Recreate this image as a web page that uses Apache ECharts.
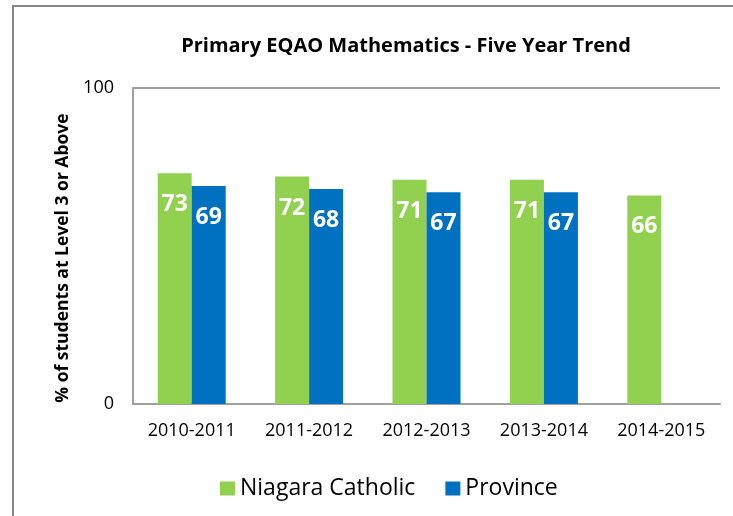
<!DOCTYPE html>
<html>
<head>
<meta charset="utf-8">
<script src="https://cdn.jsdelivr.net/npm/echarts@6/dist/echarts.min.js"></script>
<style>
html, body { margin: 0; padding: 0; background: #fff; }
#main { width: 733px; height: 516px; }
</style>
</head>
<body>
<div id="main"></div>
<script>
var years = ['2010-2011', '2011-2012', '2012-2013', '2013-2014', '2014-2015'];
var niagara = [73, 72, 71, 71, 66];
var province = [69, 68, 67, 67, null];

var font = '"Open Sans", "Noto Sans", sans-serif';

var barLabel = {
    show: true,
    position: 'insideTop',
    distance: 20,
    color: '#fff',
    fontWeight: 'bold',
    fontSize: 23,
    fontFamily: font
};

var myChart = echarts.init(document.getElementById('main'));
myChart.setOption({
    backgroundColor: '#fff',
    animation: false,
    graphic: [{
        type: 'rect',
        shape: { x: 13, y: 6, width: 760, height: 540 },
        style: { fill: 'none', stroke: '#878787', lineWidth: 2 }
    }],
    title: {
        text: 'Primary EQAO Mathematics - Five Year Trend',
        left: 401,
        textAlign: 'center',
        top: 31,
        textStyle: { fontFamily: font, fontSize: 20, fontWeight: 'bold', color: '#000' }
    },
    legend: {
        left: 215,
        top: 472,
        icon: 'rect',
        itemWidth: 15,
        itemHeight: 14,
        itemGap: 30,
        textStyle: { fontFamily: font, fontSize: 23, color: '#000' },
        data: ['Niagara Catholic', 'Province']
    },
    grid: { left: 133, right: 13, top: 88, bottom: 112 },
    xAxis: {
        type: 'category',
        data: years,
        axisTick: { show: false },
        axisLine: { lineStyle: { color: '#a0a0a0', width: 2 } },
        axisLabel: { fontFamily: font, fontSize: 18, color: '#000', margin: 18 }
    },
    yAxis: {
        type: 'value',
        min: 0,
        max: 100,
        interval: 100,
        name: '% of students at Level 3 or Above',
        nameLocation: 'middle',
        nameGap: 59,
        nameTextStyle: {
            fontFamily: font, fontSize: 17.5, fontWeight: 'bold', color: '#000',
            padding: [0, 24, 0, 0]
        },
        axisLine: { show: true, lineStyle: { color: '#a0a0a0', width: 2 } },
        axisTick: { show: false },
        splitLine: { lineStyle: { color: '#a0a0a0', width: 2 } },
        axisLabel: { fontFamily: font, fontSize: 18, color: '#000', margin: 19 }
    },
    series: [
        {
            name: 'Niagara Catholic',
            type: 'bar',
            data: niagara,
            barWidth: 34,
            barGap: '0%',
            itemStyle: { color: '#92D050' },
            label: barLabel
        },
        {
            name: 'Province',
            type: 'bar',
            data: province,
            barWidth: 34,
            itemStyle: { color: '#0070C0' },
            label: barLabel
        }
    ]
});
</script>
</body>
</html>
